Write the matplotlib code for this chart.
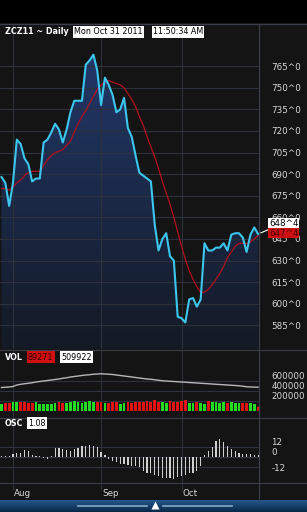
import numpy as np
import matplotlib.pyplot as plt
from matplotlib.colors import LinearSegmentedColormap

W, H = 307, 512

# daily closes, Jul 27 .. Oct 31 2011
close = [688, 684, 668, 684, 714, 711, 701, 697, 685, 687,
         687, 712, 714, 719, 725, 721, 712, 721, 733, 741,
         741, 741, 766, 769, 773, 762, 738, 757, 752, 745,
         733, 735, 743, 722, 716, 703, 691, 689, 687, 685,
         655, 637, 645, 649, 633, 630, 591, 590, 587, 603,
         604, 598, 603, 642, 637, 637, 639, 639, 642, 637,
         648, 649, 649, 646, 636, 648, 653, 648.44]
ma = [680, 680, 679, 681, 684, 686, 689, 691, 692, 692,
      692, 696, 700, 703, 705, 706, 707, 710, 713, 719,
      725, 730, 734, 739, 744, 749, 752, 754, 755, 754,
      753, 752, 750, 746, 742, 737, 730, 724, 716, 709,
      702, 694, 685, 677, 669, 660, 650, 640, 631, 623,
      617, 612, 608, 608, 610, 613, 617, 621, 626, 632,
      636, 640, 642, 642, 642, 643, 645, 647.44]
volume = [150, 160, 170, 180, 175, 190, 185, 160, 170, 180,
          150, 140, 145, 150, 160, 175, 170, 165, 180, 195,
          185, 170, 180, 200, 185, 175, 190, 170, 160, 175,
          180, 150, 160, 185, 170, 175, 190, 180, 200, 175,
          215, 190, 180, 170, 195, 185, 175, 200, 225, 170,
          165, 180, 160, 150, 205, 175, 190, 165, 180, 170,
          175, 160, 165, 170, 155, 160, 150, 89.271]
vol_avg = [470, 475, 480, 490, 520, 535, 545, 555, 565, 580,
           590, 600, 610, 620, 630, 640, 655, 665, 680, 690,
           700, 710, 720, 725, 735, 740, 745, 740, 735, 730,
           720, 710, 700, 690, 680, 670, 660, 650, 640, 635,
           625, 615, 605, 600, 595, 590, 585, 580, 575, 570,
           565, 560, 555, 550, 545, 540, 535, 530, 525, 520,
           515, 510, 505, 495, 485, 480, 478, 476]
osc = [1, 1, 2, 4, 5, 5, 9, 7, 3, 1,
       1, -1, -2, 2, 11, 11, 10, 9, 7, 10,
       11, 13, 14, 15, 14, 12, 6, 3, -2, -4,
       -6, -8, -8, -9, -10, -10, -12, -16, -19, -19,
       -21, -23, -25, -25, -25, -26, -24, -22, -21, -19,
       -19, -17, -10, 3, 8, 12, 19, 22, 18, 13,
       10, 8, 5, 4, 4, 4, 3, 3]
price_ticks = [765, 750, 735, 720, 705, 690, 675, 660, 645, 630, 615, 600, 585]
vol_ticks = [200000, 400000, 600000]
osc_ticks = [12, 0, -12]
month_labels = ['Aug', 'Sep', 'Oct']
month_idx = [3, 26, 47]
title = 'ZCZ11 ~ Daily'
stamp_date = 'Mon Oct 31 2011'
stamp_time = '11:50:34 AM'
vol_avg_last = '509922'
osc_last = '1.08'

bg = '#141414'
grid = '#2c313c'
txt = '#d8d8d8'
cyan = '#3cc6ee'
xlim = (-0.39, 67.23)
days = np.arange(len(close))


def rect(x0, y0, x1, y1):
    return [x0 / W, 1 - y1 / H, (x1 - x0) / W, (y1 - y0) / H]


def panel(r):
    ax = fig.add_axes(r)
    ax.set_facecolor(bg)
    ax.set_xlim(*xlim)
    for s in ax.spines.values():
        s.set_visible(False)
    ax.set_xticks(month_idx)
    ax.tick_params(length=0, labelbottom=False)
    ax.yaxis.tick_right()
    ax.tick_params(axis='y', colors=txt, labelsize=6.3, pad=9)
    ax.grid(True, color=grid, lw=0.8)
    ax.set_axisbelow(False)
    return ax


def boxed(x, y, s, fc='white', tc='black', size=5.8):
    fig.text(x / W, 1 - y / H, s, color=tc, fontsize=size, va='center',
             bbox=dict(boxstyle='square,pad=0.15', fc=fc, ec='none'))


fig = plt.figure(figsize=(W / 100, H / 100), dpi=100, facecolor=bg)

# top black strip
top = fig.add_axes(rect(0, 0, W, 23))
top.set_facecolor('black')
top.set_xticks([])
top.set_yticks([])
for s in top.spines.values():
    s.set_visible(False)

# price panel
ax = panel(rect(0, 24, 259, 349))
ax.set_ylim(568.6, 794.3)
ax.set_yticks(price_ticks)
ax.set_yticklabels([f'{p}^0' for p in price_ticks])
fill = ax.fill_between(days, close, 568.6, color='none', lw=0)
grad = np.linspace(0, 1, 256).reshape(-1, 1)
img = ax.imshow(grad, cmap=LinearSegmentedColormap.from_list('g', ['#22386a', '#141a25']),
                extent=(xlim[0], xlim[1], 568.6, 775), aspect='auto', zorder=1, origin='upper')
img.set_clip_path(fill.get_paths()[0], transform=ax.transData)
ax.set_xlim(*xlim)
ax.set_ylim(568.6, 794.3)
ax.plot(days, ma, color='#b3101e', lw=0.9, zorder=3)
ax.plot(days, close, color=cyan, lw=1.5, zorder=4)

fig.text(5 / W, 1 - 32 / H, title, color='white', fontsize=5.8, fontweight='bold', va='center')
boxed(74, 32, stamp_date)
boxed(153, 32, stamp_time)

ax.annotate(f'{close[-1]:.2f}'.replace('.', '^')[:5], xy=(days[-1], close[-1]),
            xytext=(269, H - 223), textcoords='figure pixels', annotation_clip=False,
            color='black', fontsize=6.3, va='center', zorder=6,
            bbox=dict(boxstyle='square,pad=0.1', fc='white', ec='none'),
            arrowprops=dict(arrowstyle='-', color='white', lw=0.8))
fig.text(269 / W, 1 - 233 / H, f'{ma[-1]:.2f}'.replace('.', '^')[:5], color='#400000',
         fontsize=6.3, va='center', zorder=6,
         bbox=dict(boxstyle='square,pad=0.1', fc='#d01010', ec='none'))

# volume panel
av = panel(rect(0, 350, 259, 418))
av.set_ylim(-140000, 1220000)
av.set_yticks(vol_ticks)
av.set_yticklabels([str(v) for v in vol_ticks])
for t in av.get_yticklabels():
    t.set_va('bottom')
vol = np.array(volume) * 1000
cols = ['#22dd22'] + ['#22dd22' if close[i] >= close[i - 1] else '#e01212'
                      for i in range(1, len(close))]
av.bar(days, vol, width=0.72, color=cols, zorder=3)
av.plot(days, np.array(vol_avg) * 1000, color='#b8b8b8', lw=1.0, zorder=3)
fig.text(5 / W, 1 - 357 / H, 'VOL', color='white', fontsize=5.8, fontweight='bold', va='center')
boxed(28, 357, f'{vol[-1]:.0f}', fc='#d01010', tc='#300000')
boxed(61, 357, vol_avg_last)

# oscillator panel
ao = panel(rect(0, 418, 259, 483))
ao.set_ylim(-31, 47)
ao.set_yticks(osc_ticks)
ao.set_yticklabels([str(v) for v in osc_ticks])
labs = ao.get_yticklabels()
labs[0].set_va('bottom')
labs[1].set_va('bottom')
ao.bar(days, osc, width=0.32, color='#cfcfcf', zorder=3)
fig.text(5 / W, 1 - 423 / H, 'OSC', color='white', fontsize=5.8, fontweight='bold', va='center')
boxed(28, 423, osc_last)

# date strip
ad = panel(rect(0, 483, 259, 500))
ad.set_ylim(0, 1)
ad.set_yticks([])
ad.grid(False)
ad.vlines(month_idx, 0.6, 1, color=grid, lw=0.8)
for i, m in zip(month_idx, month_labels):
    ad.text(i + 0.3, 0.4, m, color=txt, fontsize=6.3, va='center', ha='left')

# separators
for y in (24, 349.5, 418, 483):
    fig.add_artist(plt.Line2D([0, 1], [1 - y / H] * 2, color='#3a3f4a', lw=0.8))
fig.add_artist(plt.Line2D([259 / W] * 2, [1 - 500 / H, 1 - 24 / H], color='#3a4050', lw=0.8))

# bottom bar
ab = fig.add_axes(rect(0, 500, W, H))
ab.imshow(np.linspace(0, 1, 32).reshape(-1, 1), extent=(0, W, 0, 12), aspect='auto',
          cmap=LinearSegmentedColormap.from_list('b', ['#24588c', '#0a2848']))
ab.plot([78, 147], [6.5, 6.5], color='#8aa8c8', lw=1.2)
ab.plot([163, 232], [6.5, 6.5], color='#8aa8c8', lw=1.2)
ab.plot([155], [7], marker='^', color='white', ms=6, mec='none')
ab.set_xlim(0, W)
ab.set_ylim(0, 12)
ab.axis('off')

fig.savefig('out.png', dpi=100, facecolor=bg)
